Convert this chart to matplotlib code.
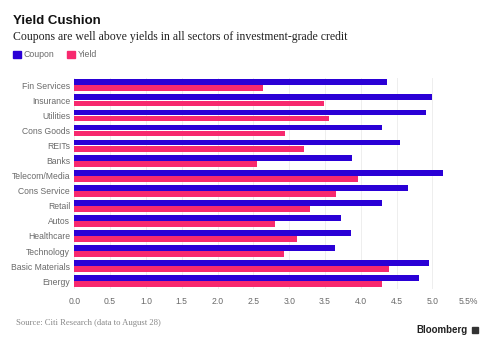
import matplotlib
matplotlib.use("Agg")
import matplotlib.pyplot as plt
from matplotlib.patches import Rectangle
import numpy as np

categories = ["Fin Services", "Insurance", "Utilities", "Cons Goods", "REITs", "Banks",
              "Telecom/Media", "Cons Service", "Retail", "Autos", "Healthcare",
              "Technology", "Basic Materials", "Energy"]
coupon = [4.36, 4.99, 4.91, 4.29, 4.54, 3.88, 5.14, 4.66, 4.30, 3.72, 3.86, 3.64, 4.95, 4.81]
yield_ = [2.63, 3.48, 3.55, 2.94, 3.21, 2.55, 3.96, 3.65, 3.29, 2.80, 3.11, 2.93, 4.39, 4.29]
xticks = [0.0, 0.5, 1.0, 1.5, 2.0, 2.5, 3.0, 3.5, 4.0, 4.5, 5.0, 5.5]
xticklabels = ["0.0", "0.5", "1.0", "1.5", "2.0", "2.5", "3.0", "3.5", "4.0", "4.5", "5.0", "5.5%"]

BLUE = "#2a00d6"
PINK = "#f7296e"
GREY = "#6a6a6a"

W, H = 488, 345
fig = plt.figure(figsize=(W / 100, H / 100), dpi=100)

left, right = 74.3, 468.3
top, bottom = 77.8, 288.7
ax = fig.add_axes([left / W, 1 - bottom / H, (right - left) / W, (bottom - top) / H])

y = np.arange(len(categories))
h = 0.385
ax.barh(y - 0.2, coupon, height=h, color=BLUE, zorder=3)
ax.barh(y + 0.2, yield_, height=h, color=PINK, zorder=3)

ax.set_xlim(0, 5.5)
ax.set_ylim(len(categories) - 0.5, -0.5)
ax.set_yticks(y)
ax.set_yticklabels(categories, fontsize=6.2, color=GREY, family="Liberation Sans")
ax.set_xticks(xticks)
ax.set_xticklabels(xticklabels, fontsize=6.2, color=GREY, family="Liberation Sans")
ax.tick_params(axis="both", length=0)
ax.tick_params(axis="y", pad=3)
ax.tick_params(axis="x", pad=6)
for s in ax.spines.values():
    s.set_visible(False)
ax.grid(axis="x", color="#eeeeee", linewidth=0.7, zorder=0)
ax.set_axisbelow(True)

# Title and subtitle
fig.text(13 / W, 1 - 21 / H, "Yield Cushion", fontsize=9.5, fontweight="bold",
         family="Liberation Sans", color="#111111", va="center", ha="left")
fig.text(13 / W, 1 - 37 / H, "Coupons are well above yields in all sectors of investment-grade credit",
         fontsize=8.5, family="Liberation Serif", color="#222222", va="center", ha="left")

# Legend
fig.patches.append(Rectangle((13 / W, 1 - 58 / H), 8 / W, 7.5 / H, transform=fig.transFigure,
                             color=BLUE))
fig.text(23.5 / W, 1 - 54.5 / H, "Coupon", fontsize=6.3, family="Liberation Sans",
         color=GREY, va="center", ha="left")
fig.patches.append(Rectangle((67 / W, 1 - 58 / H), 8 / W, 7.5 / H, transform=fig.transFigure,
                             color=PINK))
fig.text(77.5 / W, 1 - 54.5 / H, "Yield", fontsize=6.3, family="Liberation Sans",
         color=GREY, va="center", ha="left")

# Source and logo
fig.text(16 / W, 1 - 323 / H, "Source: Citi Research (data to August 28)", fontsize=6.2,
         family="Liberation Serif", color="#888888", va="center", ha="left")
fig.text(468 / W, 1 - 330 / H, "Bloomberg", fontsize=7, fontweight="bold",
         family="Liberation Sans", color="#222222", va="center", ha="right")
fig.patches.append(Rectangle((471.5 / W, 1 - 333 / H), 6 / W, 6 / H, transform=fig.transFigure,
                             color="#333333"))

fig.savefig("out.png", dpi=100)
